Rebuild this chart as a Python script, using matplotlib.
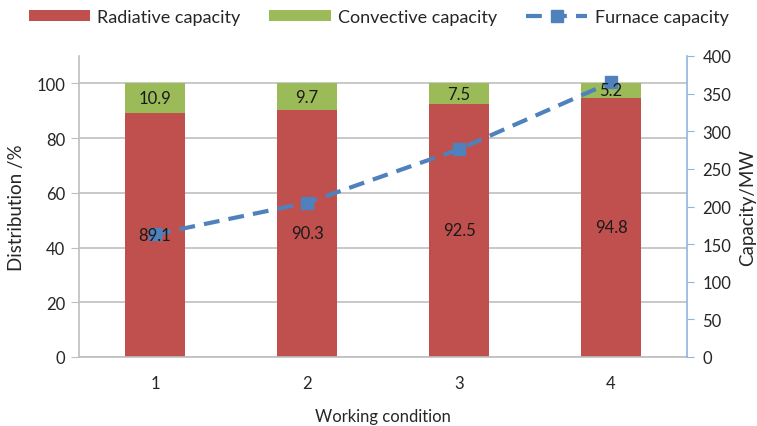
import matplotlib
matplotlib.use("Agg")
import matplotlib.pyplot as plt
import numpy as np

plt.rcParams['font.family'] = ['Lato', 'DejaVu Sans']

conditions = ["1", "2", "3", "4"]
radiative = [89.1, 90.3, 92.5, 94.8]
convective = [10.9, 9.7, 7.5, 5.2]
furnace = [163, 205, 276, 365]

red = "#C0504D"
green = "#9BBB59"
blue = "#4F81BD"
grid_gray = "#BFBFBF"
text_col = "#262626"

fig = plt.figure(figsize=(7.57, 4.27), dpi=100)
ax = fig.add_axes([79 / 757, 1 - 358 / 427, 608 / 757, 301 / 427])
ax2 = ax.twinx()

x = np.arange(len(conditions))
width = 0.4
b1 = ax.bar(x, radiative, width, color=red, label="Radiative capacity", zorder=2)
b2 = ax.bar(x, convective, width, bottom=radiative, color=green,
            label="Convective capacity", zorder=2)

ax.set_xlim(-0.5, len(conditions) - 0.5)
ax.set_ylim(0, 110)
ax.set_yticks(np.arange(0, 101, 20))
ax.set_xticks(x)
ax.set_xticklabels(conditions)
ax.yaxis.grid(True, color=grid_gray, linewidth=1.2, zorder=0)
ax.set_axisbelow(True)
for s in ["top", "right"]:
    ax.spines[s].set_visible(False)
ax.spines["left"].set_color(grid_gray)
ax.spines["bottom"].set_color(grid_gray)
ax.spines["left"].set_linewidth(1.2)
ax.spines["bottom"].set_linewidth(1.2)
ax.tick_params(axis="y", length=6, color=grid_gray, labelsize=12,
               labelcolor=text_col, pad=4)
ax.tick_params(axis="x", length=0, labelsize=12, labelcolor=text_col, pad=13)
ax.set_ylabel("Distribution /%", fontsize=13.5, color=text_col, labelpad=8)
ax.set_xlabel("Working condition", fontsize=12, color=text_col, labelpad=12)

line, = ax2.plot(x, furnace, color=blue, linestyle=(0, (3.8, 2.2)), linewidth=3,
                 marker="s", markersize=9, markeredgecolor=blue,
                 markerfacecolor=blue, label="Furnace capacity", zorder=3)
ax2.set_ylim(0, 400)
ax2.set_yticks(np.arange(0, 401, 50))
for s in ["top", "left", "bottom"]:
    ax2.spines[s].set_visible(False)
ax2.spines["right"].set_color("#8DB4E2")
ax2.spines["right"].set_linewidth(1.2)
ax2.tick_params(axis="y", length=5, color="#8DB4E2", labelsize=12,
                labelcolor=text_col, pad=6)
ax2.set_ylabel("Capacity/MW", fontsize=13.5, color=text_col, labelpad=6)

# segment value labels sit on top of the line
for xi, r, c in zip(x, radiative, convective):
    ax2.text(xi, r / 2, f"{r}", transform=ax.transData, ha="center",
             va="center", fontsize=12, color="#1a1a1a", zorder=6)
    ax2.text(xi, r + c / 2, f"{c}", transform=ax.transData, ha="center",
             va="center", fontsize=12, color="#1a1a1a", zorder=6)

handles = [b1, b2, line]
labels = [h.get_label() for h in handles]
fig.legend(handles, labels, loc="center", bbox_to_anchor=(0.5, 1 - 18 / 427),
           ncol=3, frameon=False, prop={'size': 13},
           handlelength=3.4, handleheight=0.6,
           columnspacing=1.6, handletextpad=0.4, labelcolor=text_col)

fig.savefig("out.png", dpi=100)
